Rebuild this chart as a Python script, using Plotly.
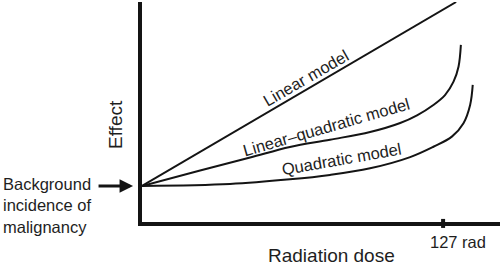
import plotly.graph_objects as go

# ---- data (dose in rad, effect in arbitrary units) ----
linear_dose = [0, 132.5]
linear_effect = [16.4, 100]

lq_dose = [0, 24.5, 45.6, 62.4, 79.3, 96.2, 108.9, 116.0, 122.9, 127.8, 131.4, 133.5, 134.5]
lq_effect = [16.4, 23.4, 29.3, 34.1, 37.4, 40.9, 45.0, 48.5, 53.2, 57.7, 63.8, 70.6, 80.5]

quad_dose = [0, 37.1, 62.4, 79.3, 96.2, 113.1, 122.9, 130.7, 135.6, 138.4, 139.5]
quad_effect = [16.4, 17.3, 19.4, 21.4, 24.4, 29.5, 34.2, 38.8, 44.9, 53.2, 62.3]

tick_values = [127]
tick_labels = ["127 rad"]
background_effect = 16.4

FONT = "Liberation Sans, Arial, Helvetica, sans-serif"
TXT = "#1e1e1e"
LINE = "#141414"

fig = go.Figure()
for xs, ys in [(linear_dose, linear_effect), (lq_dose, lq_effect), (quad_dose, quad_effect)]:
    fig.add_trace(go.Scatter(x=xs, y=ys, mode="lines",
                             line=dict(color=LINE, width=2, shape="spline", smoothing=1.0),
                             hoverinfo="skip", showlegend=False))

fig.update_layout(
    width=500, height=268,
    margin=dict(l=142, r=0, t=2, b=46),
    paper_bgcolor="white", plot_bgcolor="white",
    font=dict(family=FONT, color=TXT, size=16),
    xaxis=dict(range=[0, 151], showline=True, linecolor=LINE, linewidth=4,
               showgrid=False, zeroline=False, showticklabels=False, ticks=""),
    yaxis=dict(range=[0, 100], showline=True, linecolor=LINE, linewidth=4,
               showgrid=False, zeroline=False, showticklabels=False, ticks=""),
)

# tick mark at 127 rad
for tv, tl in zip(tick_values, tick_labels):
    fig.add_shape(type="line", xref="x", yref="paper", x0=tv, x1=tv,
                  y0=0.014, y1=-0.027, line=dict(color=LINE, width=4))
    fig.add_annotation(x=tv, xref="x", y=0, yref="paper", text=tl, showarrow=False,
                       xanchor="center", yanchor="middle", xshift=15, yshift=-20,
                       font=dict(size=16.5))

# curve labels
fig.add_annotation(x=69.0, y=65.6, text="Linear model", showarrow=False,
                   textangle=-30, font=dict(size=16.5))
fig.add_annotation(x=77.6, y=43.3, text="Linear\u2013quadratic model", showarrow=False,
                   textangle=-16, font=dict(size=16.5))
fig.add_annotation(x=84.0, y=28.6, text="Quadratic model", showarrow=False,
                   textangle=-10, font=dict(size=16.5))

# axis titles
fig.add_annotation(x=(331 - 142) / 358, xref="paper", y=0, yref="paper", yshift=-33,
                   text="Radiation dose", showarrow=False, font=dict(size=19),
                   xanchor="center", yanchor="middle")
fig.add_annotation(x=0, xref="paper", xshift=-27, y=(222 - 125) / 220, yref="paper",
                   text="Effect", showarrow=False, textangle=-90, font=dict(size=19),
                   xanchor="center", yanchor="middle")

# background incidence arrow and text
fig.add_annotation(x=-0.025, xref="paper", y=background_effect, yref="y",
                   ax=-36, ay=0, text="", showarrow=True,
                   arrowhead=2, arrowwidth=3, arrowsize=0.9, arrowcolor=LINE)
fig.add_annotation(x=(1 - 142) / 358, xref="paper", y=(222 - 205) / 220, yref="paper",
                   text="Background<br>incidence of<br>malignancy", showarrow=False,
                   xanchor="left", yanchor="middle", align="left", font=dict(size=16.5))

fig.write_html("out.html")
